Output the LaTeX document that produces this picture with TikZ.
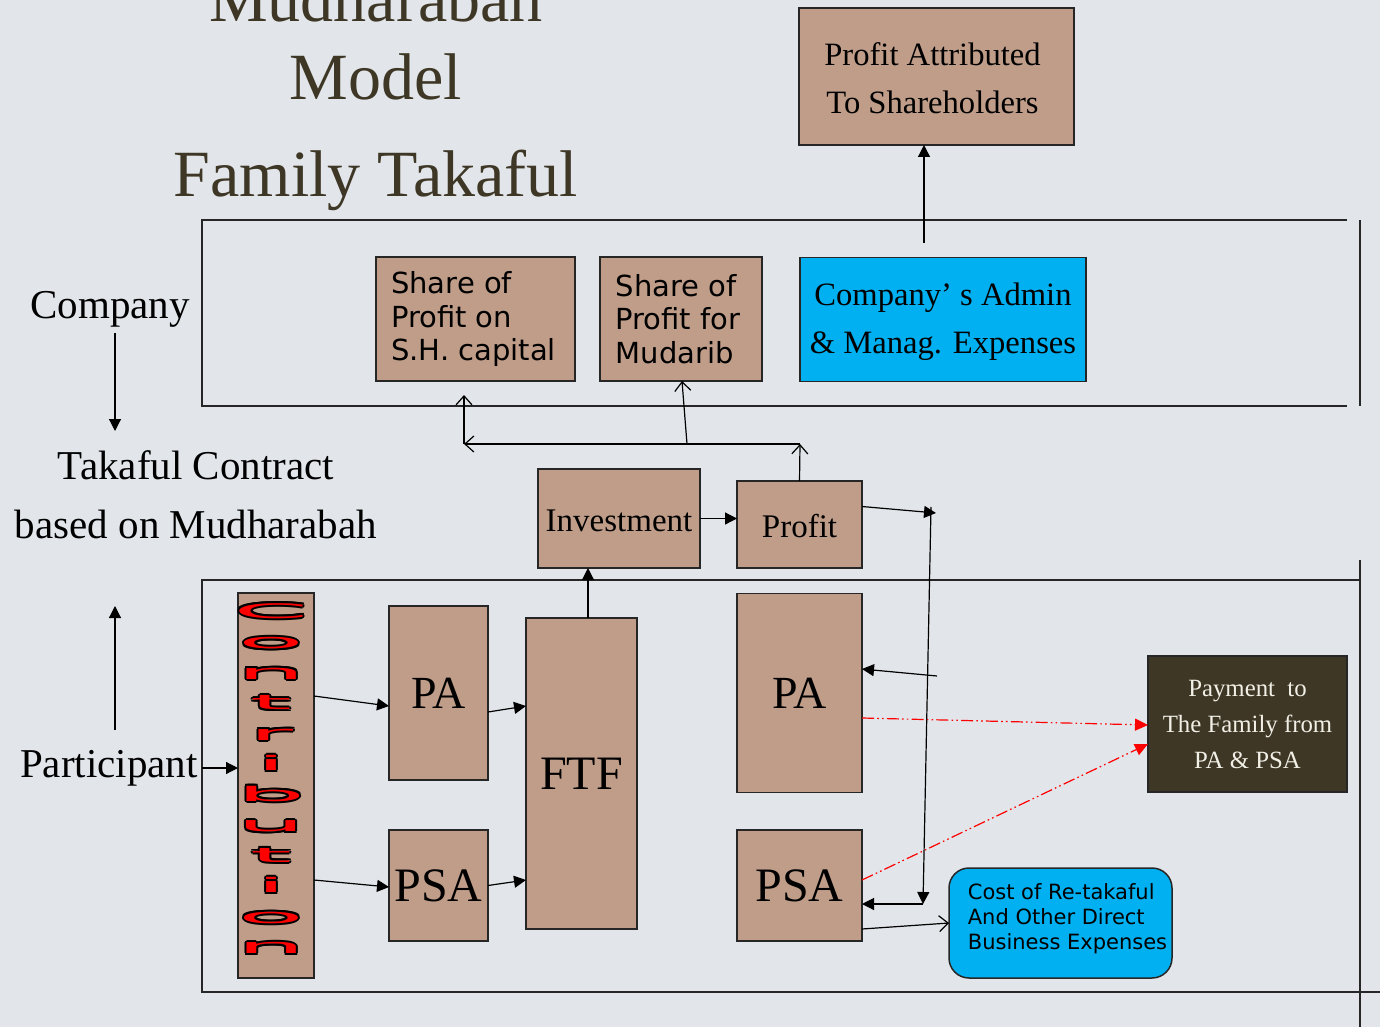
\documentclass[tikz,border=0pt]{standalone}
\usepackage{fontspec}
\setmainfont{Liberation Serif}
\newfontfamily\sansf{DejaVu Sans}
\usetikzlibrary{arrows.meta,calc}
\definecolor{bg}{RGB}{226,230,234}
\definecolor{tanc}{RGB}{191,157,137}
\definecolor{sky}{RGB}{0,176,240}
\definecolor{darkbox}{RGB}{62,55,38}
\definecolor{titlec}{RGB}{62,55,38}
\definecolor{cream}{RGB}{242,240,230}
\begin{document}
\begin{tikzpicture}[x=0.5pt,y=-0.5pt,
  box/.style={draw=black!85, line width=0.75pt, inner sep=0pt, outer sep=0pt},
  tanbox/.style={box, fill=tanc},
  framel/.style={line width=0.9pt, draw=black!85},
  arr/.style={line width=0.6pt, -{Triangle[length=6pt,width=6pt]}},
  oarr/.style={line width=0.6pt, -{Straight Barb[length=4.5pt,width=8pt]}},
  redarr/.style={red, line width=0.6pt, dash pattern=on 6pt off 1.6pt on 0.8pt off 1.6pt on 0.8pt off 1.6pt, -{Triangle[length=6.5pt,width=6pt]}},
  titletext/.style={anchor=base, inner sep=0pt, text=titlec, font=\fontsize{33pt}{33pt}\selectfont},
  labeltext/.style={anchor=base, inner sep=0pt, font=\fontsize{20.5pt}{20.5pt}\selectfont},
  sanstext/.style={align=left, font=\sansf\fontsize{14.5pt}{16.75pt}\selectfont},
  serifmid/.style={align=center, font=\fontsize{16.3pt}{24pt}\selectfont},
  bigtext/.style={font=\fontsize{23pt}{23pt}\selectfont},
  letter/.style={anchor=base, inner sep=0pt, font=\sansf\fontsize{12.5pt}{12.5pt}\selectfont}
]
\fill[bg] (0,0) rectangle (1380,1027);
\useasboundingbox (0,0) rectangle (1380,1027);

% titles
\node[titletext] (t1) at (376,22) {Mudharabah};
\node[titletext] (t2) at (376,100) {Model};
\node[titletext] (t3) at (376,197) {Family Takaful};

% frames
\draw[framel] (1347,220) -- (202,220) -- (202,406) -- (1347,406);
\draw[framel] (1360,220) -- (1360,406);
\draw[framel] (1360,580) -- (202,580) -- (202,992) -- (1380,992);
\draw[framel] (1360,560) -- (1360,1027);

% left labels
\node[labeltext] (company) at (110,318) {Company};
\node[labeltext] (contract1) at (196,479) {Takaful Contract};
\node[labeltext] (contract2) at (196,538) {based on Mudharabah};
\node[labeltext] (partic) at (109,777) {Participant};
\coordinate (cA) at (115,333);
\coordinate (cB) at (115,431);
\coordinate (pA) at (115,730);
\coordinate (pB) at (115,606);
\coordinate (pC) at (202,768);
\draw[arr] (cA) -- (cB);
\draw[arr] (pA) -- (pB);

% top boxes
\node[tanbox, minimum width=137.5pt, minimum height=68.5pt] (profattr) at (936.5,76.5) {};
\node[serifmid] at ([xshift=-2pt,yshift=-1pt]profattr.center) {Profit Attributed\\To Shareholders};
\node[tanbox, minimum width=99.5pt, minimum height=62pt] (shareSH) at (475.5,319) {};
\node[sanstext] at ([xshift=-1pt]shareSH.center) {Share of\\Profit on\\S.H. capital};
\node[tanbox, minimum width=81pt, minimum height=62pt] (shareMud) at (681,319) {};
\node[sanstext] at ([xshift=-1.5pt]shareMud.center) {Share of\\Profit for\\Mudarib};
\node[box, fill=sky, minimum width=143pt, minimum height=62pt] (admin) at (943,319.5) {};
\node[serifmid] at ([yshift=-1pt]admin.center) {Company’ s Admin\\\& Manag. Expenses};

\node[tanbox, minimum width=81pt, minimum height=49.5pt] (invest) at (619,518.5) {};
\node[font=\fontsize{16.5pt}{16.5pt}\selectfont] at ([yshift=-1pt]invest.center) {Investment};
\node[tanbox, minimum width=62.5pt, minimum height=43.5pt] (profit) at (799.5,524.5) {};
\node[font=\fontsize{16.5pt}{16.5pt}\selectfont] at ([yshift=-1pt]profit.center) {Profit};

% bottom boxes
\node[tanbox, minimum width=38pt, minimum height=192.5pt] (contrib) at (276,785.5) {};
\node[tanbox, minimum width=49.5pt, minimum height=87pt, bigtext] (pa1) at (438.5,693) {PA};
\node[tanbox, minimum width=49.5pt, minimum height=55.5pt, font=\fontsize{24pt}{24pt}\selectfont] (psa1) at (438.5,885.5) {PSA};
\node[tanbox, minimum width=55.5pt, minimum height=155.5pt, font=\fontsize{24pt}{24pt}\selectfont] (ftf) at (581.5,773.5) {FTF};
\node[tanbox, minimum width=62.5pt, minimum height=99.5pt, bigtext] (pa2) at (799.5,693) {PA};
\node[tanbox, minimum width=62.5pt, minimum height=55.5pt, font=\fontsize{24pt}{24pt}\selectfont] (psa2) at (799.5,885.5) {PSA};
\node[box, fill=darkbox, minimum width=99.5pt, minimum height=68pt] (payment) at (1247.5,724) {};
\node[align=center, text=cream, font=\fontsize{12.4pt}{18pt}\selectfont] at ([yshift=0pt]payment.center) {Payment\ \ to\\The Family from\\PA \& PSA};
\node[box, fill=sky, rounded corners=10pt, minimum width=111.5pt, minimum height=55pt] (cost) at (1060.5,923) {};
\node[align=left, font=\sansf\fontsize{10.5pt}{12.5pt}\selectfont] at ([xshift=3.5pt,yshift=2pt]cost.center) {Cost of Re-takaful\\And Other Direct\\Business Expenses};

% contribution letters
\foreach \ch [count=\i from 0] in {C,o,n,t,r,i,b,u,t,i,o,n}{
  \foreach \dx/\dy in {-2/0,2/0,0/-2,0/2,-1.5/-1.5,1.5/1.5,-1.5/1.5,1.5/-1.5}{
    \node[letter, text=black] at (271+\dx, 618+30.5*\i+\dy) {\scalebox{4.3}[0.8]{\ch}};
  }
  \node[letter, text=red] at (271, 618+30.5*\i) {\scalebox{4.3}[0.8]{\ch}};
}

% connectors
\draw[arr] (pC) -- (pC -| contrib.west);
\draw[arr] ([yshift=44.75pt]contrib.east) -- ([yshift=-6.5pt]pa1.west);
\draw[arr] ([yshift=-47.25pt]contrib.east) -- ([yshift=-0.75pt]psa1.west);
\draw[arr] ([yshift=-9.5pt]pa1.east) -- ([yshift=33.75pt]ftf.west);
\draw[arr] (psa1.east) -- ([yshift=-53.25pt]ftf.west);
\draw[arr] ([xshift=3.25pt]ftf.north) -- ([xshift=3.25pt]ftf.north |- invest.south);
\draw[arr] (invest.east) -- (invest.east -| profit.west);

\coordinate (bus) at (800,444);
\coordinate (busL) at (464,444);
\coordinate (busM) at (687,444);
\draw[oarr] (profit.north) -- (bus);
\draw[oarr] (bus) -- (busL);
\draw[oarr] (busL) -- ([yshift=-7pt]busL |- shareSH.south);
\draw[oarr] (busM) -- ([xshift=0.5pt]shareMud.south);

\coordinate (adm) at (924,243);
\draw[arr] (adm) -- (adm |- profattr.south);

\coordinate (r1) at (936,513);
\coordinate (vtop) at (931,507);
\coordinate (vbot) at (923,904);
\coordinate (r2) at (937,676);
\draw[arr] ([yshift=9pt]profit.east) -- (r1);
\draw[arr] (vtop) -- (vbot);
\draw[arr] (vbot) -- (vbot -| psa2.east);
\draw[arr] (r2) -- ([yshift=12pt]pa2.east);
\draw[oarr] ([yshift=-21.75pt]psa2.east) -- (cost.west);
\draw[redarr] ([yshift=-12.5pt]pa2.east) -- ([yshift=-0.5pt]payment.west);
\draw[redarr] ([yshift=2.75pt]psa2.east) -- ([yshift=-10pt]payment.west);
\end{tikzpicture}
\end{document}
